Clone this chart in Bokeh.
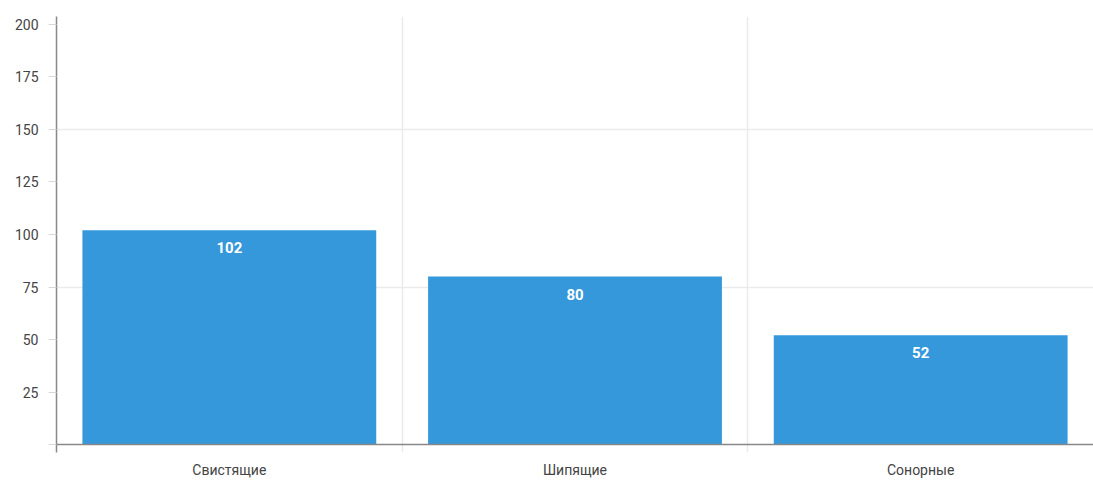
from bokeh.plotting import figure
from bokeh.models import FixedTicker, Span, Range1d, ColumnDataSource
from bokeh.core.properties import value
from bokeh.embed import file_html
from bokeh.resources import INLINE

categories = ["Свистящие", "Шипящие", "Сонорные"]
values = [102, 80, 52]
y_ticks = [0, 25, 50, 75, 100, 125, 150, 175, 200]

FONT = "Roboto"
BAR = "#3598db"

xs = [i + 0.5 for i in range(len(categories))]
src = ColumnDataSource(dict(x=xs, top=values, label=[str(v) for v in values]))

p = figure(width=1093, height=480, output_backend="svg", toolbar_location=None,
           x_range=Range1d(0, len(categories)), y_range=Range1d(-3.8, 203.8),
           min_border_left=56, min_border_top=16, min_border_right=0, min_border_bottom=27)
p.outline_line_color = None
p.background_fill_color = "white"

p.vbar(x="x", top="top", width=0.85, bottom=0, source=src, fill_color=BAR, line_color=None)
p.text(x="x", y="top", text="label", source=src, text_align="center", text_baseline="top",
       y_offset=12, text_color="white", text_font=value(FONT), text_font_style="bold",
       text_font_size="15px")

p.add_layout(Span(location=0, dimension="width", line_color="#888888", line_width=1.5))

# x axis
p.xaxis.ticker = FixedTicker(ticks=xs)
p.xaxis.major_label_overrides = {x: c for x, c in zip(xs, categories)}
p.xaxis.axis_line_color = None
p.xaxis.major_tick_line_color = None
p.xaxis.major_tick_out = 0
p.xaxis.major_tick_in = 0
p.xaxis.minor_tick_line_color = None
p.xaxis.major_label_standoff = 9
p.xaxis.major_label_text_font = FONT
p.xaxis.major_label_text_font_size = "14px"
p.xaxis.major_label_text_color = "#444444"

# y axis
p.yaxis.ticker = FixedTicker(ticks=y_ticks)
p.yaxis.major_label_overrides = {0: ""}
p.yaxis.axis_line_color = "#888888"
p.yaxis.axis_line_width = 1.5
p.yaxis.major_tick_line_color = "#d8d8d8"
p.yaxis.major_tick_in = 0
p.yaxis.major_tick_out = 8
p.yaxis.minor_tick_line_color = None
p.yaxis.major_label_standoff = 10
p.yaxis.major_label_text_font = FONT
p.yaxis.major_label_text_font_size = "14px"
p.yaxis.major_label_text_color = "#444444"

# grids
p.xgrid.ticker = FixedTicker(ticks=[1, 2])
p.xgrid.grid_line_color = "#ebebeb"
p.xgrid.grid_line_width = 1.5
p.ygrid.ticker = FixedTicker(ticks=[75, 150])
p.ygrid.grid_line_color = "#ebebeb"
p.ygrid.grid_line_width = 1.5

open("out.html", "w").write(file_html(p, INLINE))
